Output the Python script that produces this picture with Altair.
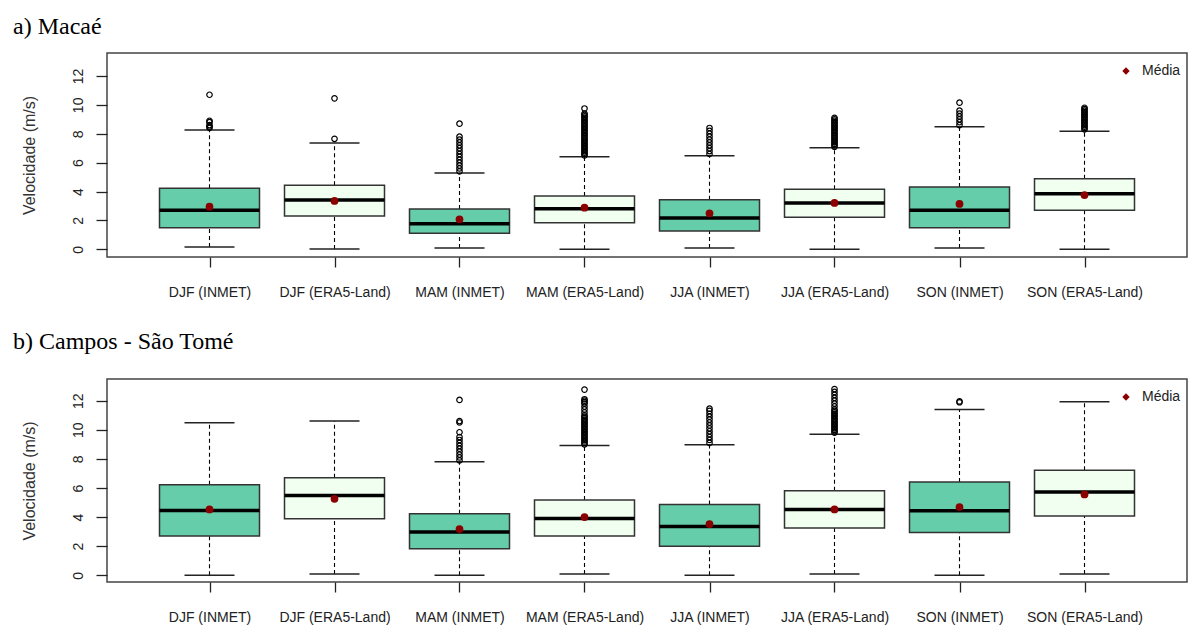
import json
import altair as alt
import pandas as pd

# ---------------- data ----------------
labels = ["DJF (INMET)", "DJF (ERA5-Land)", "MAM (INMET)", "MAM (ERA5-Land)",
          "JJA (INMET)", "JJA (ERA5-Land)", "SON (INMET)", "SON (ERA5-Land)"]
source = ["INMET", "ERA5-Land"] * 4

# a) Macaé
mac_lo = [0.16, 0.02, 0.09, 0.00, 0.09, 0.00, 0.09, 0.00]
mac_q1 = [1.50, 2.31, 1.11, 1.84, 1.27, 2.22, 1.50, 2.70]
mac_med = [2.70, 3.41, 1.77, 2.81, 2.17, 3.21, 2.70, 3.85]
mac_q3 = [4.22, 4.43, 2.79, 3.69, 3.43, 4.16, 4.31, 4.89]
mac_hi = [8.26, 7.36, 5.28, 6.41, 6.48, 7.04, 8.49, 8.17]
mac_mean = [2.95, 3.35, 2.08, 2.88, 2.49, 3.21, 3.14, 3.76]
mac_out = [
    [8.4, 8.5, 8.6, 8.8, 8.9, 10.7],
    [7.65, 10.45],
    [5.4, 5.6, 5.8, 6.0, 6.2, 6.4, 6.6, 6.8, 7.0, 7.2, 7.4, 7.6, 7.8, 8.7],
    [6.5, 6.6, 6.7, 6.8, 6.9, 7.0, 7.1, 7.2, 7.3, 7.4, 7.5, 7.6, 7.7, 7.8, 7.9,
     8.0, 8.1, 8.2, 8.3, 8.4, 8.5, 8.6, 8.7, 8.8, 8.9, 9.0, 9.1, 9.2, 9.3, 9.4, 9.75],
    [6.6, 6.8, 7.0, 7.2, 7.4, 7.6, 7.8, 8.0, 8.2, 8.4],
    [7.1, 7.2, 7.3, 7.4, 7.5, 7.6, 7.7, 7.8, 7.9, 8.0, 8.1, 8.2, 8.3, 8.4, 8.5,
     8.6, 8.7, 8.8, 8.9, 9.0, 9.1],
    [8.6, 8.8, 9.0, 9.2, 9.4, 9.6, 10.15],
    [8.3, 8.4, 8.5, 8.6, 8.7, 8.8, 8.9, 9.0, 9.1, 9.2, 9.3, 9.4, 9.5, 9.6, 9.7, 9.8],
]

# b) Campos - São Tomé
cam_lo = [0.00, 0.09, 0.00, 0.09, 0.00, 0.09, 0.00, 0.09]
cam_q1 = [2.70, 3.89, 1.83, 2.70, 1.99, 3.25, 2.95, 4.07]
cam_med = [4.46, 5.49, 2.97, 3.91, 3.36, 4.53, 4.43, 5.72]
cam_q3 = [6.22, 6.70, 4.23, 5.17, 4.87, 5.81, 6.42, 7.22]
cam_hi = [10.49, 10.61, 7.80, 8.92, 8.98, 9.69, 11.39, 11.93]
cam_mean = [4.53, 5.26, 3.18, 4.00, 3.52, 4.53, 4.69, 5.56]
cam_out = [
    [],
    [],
    [7.9, 8.1, 8.3, 8.5, 8.7, 8.9, 9.1, 9.3, 9.5, 9.83, 10.5, 10.6, 12.05],
    [9.0, 9.1, 9.2, 9.3, 9.4, 9.5, 9.6, 9.7, 9.8, 9.9, 10.0, 10.1, 10.2, 10.3,
     10.4, 10.5, 10.6, 10.7, 10.8, 10.9, 11.0, 11.2, 11.4, 11.6, 11.8, 11.9,
     12.0, 12.1, 12.76],
    [9.1, 9.3, 9.5, 9.7, 9.9, 10.1, 10.3, 10.5, 10.7, 10.9, 11.1, 11.3, 11.45],
    [9.8, 9.9, 10.0, 10.1, 10.2, 10.3, 10.4, 10.5, 10.6, 10.7, 10.8, 10.9, 11.0,
     11.1, 11.2, 11.3, 11.4, 11.6, 11.8, 12.0, 12.2, 12.4, 12.6, 12.8],
    [11.89, 11.95],
    [],
]

y_ticks = [0, 2, 4, 6, 8, 10, 12]
legend_label = ["Média"]

# ---------------- styling ----------------
SANS = "Liberation Sans"
SERIF = "Liberation Serif"
W = 1080
FILL_DOMAIN = ["INMET", "ERA5-Land"]
FILL_RANGE = ["#66CDAA", "#F0FFF0"]


def panel(title, lo, q1, med, q3, hi, mean, outs, ydom, height, toffset):
    pos = list(range(1, len(labels) + 1))
    df = pd.DataFrame({"pos": pos, "src": source, "lo": lo, "q1": q1, "med": med,
                       "q3": q3, "hi": hi, "mean": mean})
    odf = pd.DataFrame([{"pos": p, "v": v} for p, vals in zip(pos, outs) for v in vals])

    xs = alt.Scale(domain=[0.18, 8.82], nice=False, zero=False)
    ys = alt.Scale(domain=ydom, nice=False, zero=False)
    xaxis = alt.Axis(values=pos, labelExpr=f"{json.dumps(labels)}[datum.value - 1]",
                     grid=False, domain=False, tickSize=10, tickColor="#222",
                     tickWidth=1.3, labelFont=SANS, labelFontSize=14,
                     labelColor="#222", labelBaseline="middle", labelPadding=25,
                     labelFlush=False, labelOverlap=False, title=None)
    yaxis = alt.Axis(values=y_ticks, grid=False, domain=False, tickSize=11,
                     tickColor="#222", tickWidth=1.3, labelAngle=270,
                     labelAlign="center", labelBaseline="middle", labelPadding=18,
                     labelFont=SANS, labelFontSize=14, labelColor="#222",
                     title="Velocidade (m/s)", titleFont=SANS, titleFontSize=16,
                     titleFontWeight="normal", titleColor="#333", titleAngle=270,
                     titleAlign="center", titleBaseline="middle", titleX=-78,
                     titleY=height / 2)

    def X(f):
        return alt.X(f, scale=xs, axis=xaxis)

    def Y(f):
        return alt.Y(f, scale=ys, axis=yaxis)

    base = alt.Chart(df).transform_calculate(
        bl="datum.pos - 0.4", br="datum.pos + 0.4",
        cl="datum.pos - 0.2", cr="datum.pos + 0.2")

    w_up = base.mark_rule(color="black", strokeWidth=1.1, strokeDash=[4, 3]).encode(
        x=X("pos:Q"), y=Y("q3:Q"), y2="hi:Q")
    w_dn = base.mark_rule(color="black", strokeWidth=1.1, strokeDash=[4, 3]).encode(
        x=X("pos:Q"), y=Y("lo:Q"), y2="q1:Q")
    cap_hi = base.mark_rule(color="#222", strokeWidth=1.5).encode(
        x=X("cl:Q"), x2="cr:Q", y=Y("hi:Q"))
    cap_lo = base.mark_rule(color="#222", strokeWidth=1.5).encode(
        x=X("cl:Q"), x2="cr:Q", y=Y("lo:Q"))
    box = base.mark_rect(stroke="#333", strokeWidth=1.5).encode(
        x=X("bl:Q"), x2="br:Q", y=Y("q1:Q"), y2="q3:Q",
        fill=alt.Fill("src:N", scale=alt.Scale(domain=FILL_DOMAIN, range=FILL_RANGE),
                      legend=None))
    median = base.mark_rule(color="black", strokeWidth=3.5).encode(
        x=X("bl:Q"), x2="br:Q", y=Y("med:Q"))
    outl = alt.Chart(odf).mark_point(shape="circle", filled=False, color="black",
                                     size=30, strokeWidth=1.2, opacity=1).encode(
        x=X("pos:Q"), y=Y("v:Q"))
    means = base.mark_circle(color="#8B0000", size=60, opacity=1).encode(
        x=X("pos:Q"), y=Y("mean:Q"))

    leg_df = pd.DataFrame({"t": legend_label})
    leg_sym = alt.Chart(leg_df).mark_point(shape="diamond", filled=True,
                                           color="#8B0000", size=55, opacity=1).encode(
        x=alt.value(W - 61), y=alt.value(18))
    leg_txt = alt.Chart(leg_df).mark_text(align="left", baseline="middle", font=SANS,
                                          fontSize=14, color="#222").encode(
        x=alt.value(W - 45), y=alt.value(18), text="t:N")

    layers = [w_up, w_dn, cap_hi, cap_lo, box, median]
    if len(odf):
        layers.append(outl)
    layers += [means, leg_sym, leg_txt]

    return alt.layer(*layers).properties(
        width=W, height=height,
        view=alt.ViewBackground(stroke="#444", strokeWidth=1.5),
        title=alt.TitleParams(title, anchor="start", frame="group", font=SERIF,
                              fontSize=24, fontWeight="normal", color="black",
                              dx=-94, baseline="alphabetic", offset=toffset),
    )


pa = panel("a) Macaé", mac_lo, mac_q1, mac_med, mac_q3, mac_hi, mac_mean, mac_out,
           [-0.53, 13.59], 204, -5)
pb = panel("b) Campos - São Tomé", cam_lo, cam_q1, cam_med, cam_q3, cam_hi, cam_mean,
           cam_out, [-0.46, 13.49], 203, 6)

chart = alt.vconcat(pa, pb, spacing=29).properties(
    padding={"left": 12, "top": 14, "right": 0, "bottom": 0}
).configure_view(stroke="#444", strokeWidth=1.5).configure(background="white")

chart.save("out.html", embed_options={"renderer": "svg", "actions": False})
